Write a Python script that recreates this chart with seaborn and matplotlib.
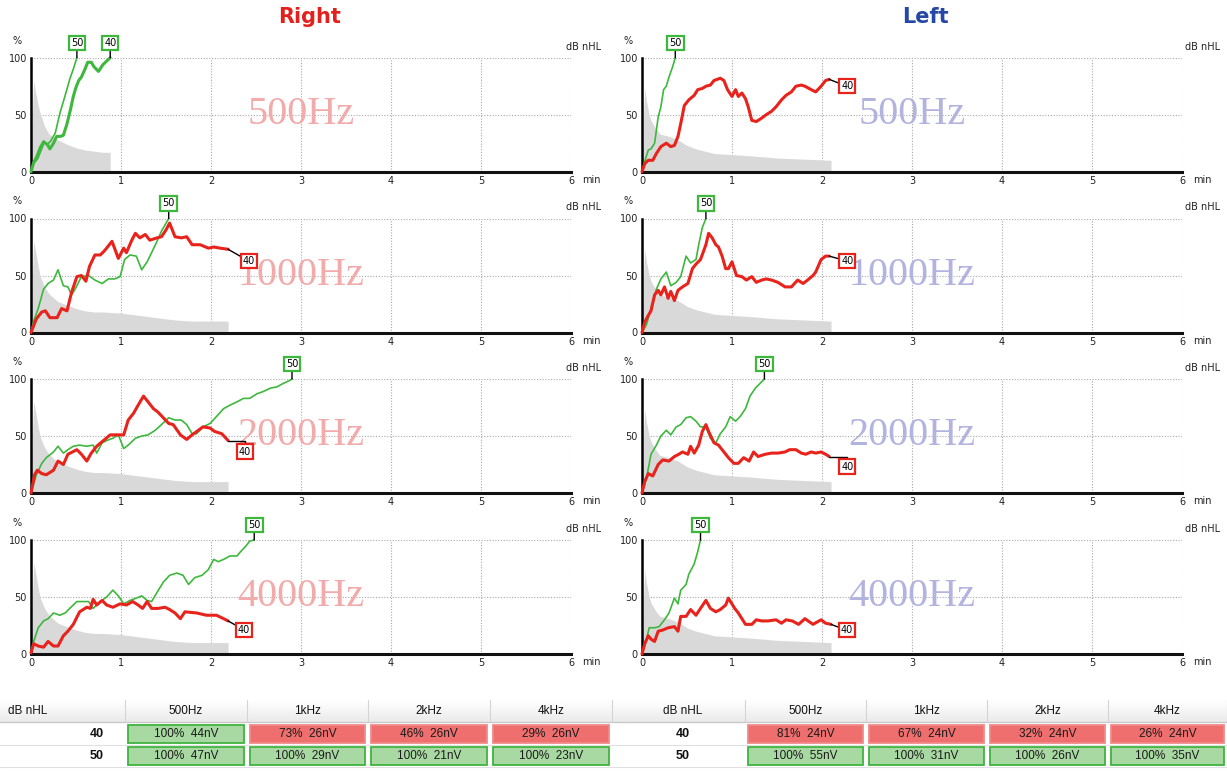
import matplotlib
matplotlib.use("Agg")
import matplotlib.pyplot as plt
from matplotlib.patches import Rectangle
import numpy as np
import seaborn as sns

sns.set_theme(style="white")
plt.rcParams['font.family'] = ['DejaVu Sans']

# ---------------- ASSR response curves (time in min, response in %) ----------------
R500_40_T = [0, 0.03, 0.07, 0.10, 0.14, 0.18, 0.21, 0.25, 0.285, 0.33, 0.36, 0.40, 0.44, 0.47, 0.50, 0.53, 0.56, 0.60, 0.63, 0.67, 0.70, 0.75, 0.80, 0.84, 0.88]
R500_40_Y = [0, 8, 12, 18, 26, 24, 20, 25, 31, 31, 32, 42, 55, 66, 74, 80, 83, 90, 96, 96, 92, 88, 94, 97, 100]
R500_50_T = [0, 0.03, 0.06, 0.10, 0.14, 0.18, 0.22, 0.27, 0.32, 0.38, 0.43, 0.47, 0.51]
R500_50_Y = [0, 9, 14, 22, 27, 24, 27, 34, 51, 67, 81, 90, 100]

R1000_40_T = [0, 0.06, 0.12, 0.16, 0.21, 0.29, 0.34, 0.40, 0.45, 0.51, 0.56, 0.61, 0.65, 0.71, 0.77, 0.82, 0.90, 0.97, 1.03, 1.06, 1.12, 1.16, 1.21, 1.27, 1.32, 1.40, 1.45, 1.50, 1.54, 1.60, 1.67, 1.73, 1.79, 1.88, 1.97, 2.03, 2.10, 2.19]
R1000_40_Y = [0, 12, 18, 19, 13, 13, 21, 19, 35, 49, 50, 45, 58, 68, 68, 72, 80, 65, 74, 70, 81, 87, 83, 86, 81, 83, 84, 90, 96, 84, 83, 84, 77, 77, 74, 75, 74, 73]
R1000_50_T = [0, 0.03, 0.08, 0.14, 0.19, 0.25, 0.30, 0.36, 0.41, 0.45, 0.49, 0.56, 0.64, 0.71, 0.79, 0.86, 0.93, 0.99, 1.04, 1.10, 1.17, 1.23, 1.29, 1.34, 1.40, 1.45, 1.53]
R1000_50_Y = [0, 10, 21, 38, 43, 46, 55, 41, 40, 33, 38, 49, 50, 46, 43, 47, 47, 49, 64, 68, 67, 55, 62, 70, 80, 89, 100]

R2000_40_T = [0, 0.04, 0.07, 0.12, 0.17, 0.25, 0.30, 0.36, 0.41, 0.51, 0.56, 0.62, 0.67, 0.73, 0.79, 0.88, 0.93, 1.03, 1.08, 1.14, 1.19, 1.25, 1.30, 1.36, 1.41, 1.47, 1.53, 1.58, 1.66, 1.73, 1.79, 1.86, 1.91, 1.99, 2.04, 2.12, 2.19]
R2000_40_Y = [0, 16, 20, 17, 16, 20, 28, 25, 34, 38, 34, 28, 35, 41, 45, 51, 51, 51, 64, 70, 77, 85, 80, 74, 71, 66, 61, 60, 51, 47, 51, 55, 58, 57, 54, 52, 46]
R2000_50_T = [0, 0.06, 0.12, 0.17, 0.25, 0.30, 0.36, 0.41, 0.47, 0.54, 0.62, 0.69, 0.73, 0.79, 0.84, 0.91, 0.97, 1.03, 1.08, 1.16, 1.23, 1.30, 1.38, 1.45, 1.53, 1.60, 1.67, 1.73, 1.79, 1.84, 1.91, 1.99, 2.06, 2.14, 2.21, 2.29, 2.36, 2.43, 2.51, 2.58, 2.66, 2.73, 2.80, 2.88, 2.90]
R2000_50_Y = [0, 16, 26, 31, 36, 41, 35, 38, 41, 42, 41, 42, 35, 44, 46, 48, 51, 39, 42, 48, 50, 51, 55, 60, 66, 64, 64, 60, 52, 52, 58, 61, 67, 74, 77, 80, 83, 83, 87, 89, 92, 93, 96, 99, 100]

R4000_40_T = [0, 0.03, 0.08, 0.14, 0.19, 0.25, 0.30, 0.36, 0.41, 0.47, 0.54, 0.62, 0.66, 0.69, 0.73, 0.79, 0.84, 0.91, 0.99, 1.06, 1.13, 1.19, 1.24, 1.29, 1.34, 1.41, 1.49, 1.54, 1.60, 1.66, 1.71, 1.84, 1.95, 2.06, 2.14, 2.19]
R4000_40_Y = [1, 9, 7, 6, 11, 7, 7, 16, 20, 26, 37, 41, 40, 48, 43, 47, 43, 41, 44, 43, 46, 43, 40, 46, 40, 40, 41, 39, 36, 31, 37, 36, 34, 34, 31, 29]
R4000_50_T = [0, 0.03, 0.08, 0.14, 0.19, 0.25, 0.32, 0.38, 0.43, 0.51, 0.58, 0.64, 0.69, 0.77, 0.84, 0.91, 0.97, 1.03, 1.10, 1.17, 1.23, 1.29, 1.34, 1.40, 1.47, 1.54, 1.62, 1.69, 1.75, 1.82, 1.90, 1.97, 2.03, 2.08, 2.14, 2.21, 2.29, 2.32, 2.38, 2.43, 2.48]
R4000_50_Y = [1, 11, 23, 29, 31, 36, 34, 36, 40, 46, 46, 46, 40, 46, 50, 56, 51, 44, 47, 49, 51, 47, 46, 54, 63, 69, 71, 69, 61, 67, 69, 74, 83, 81, 83, 86, 86, 89, 94, 99, 100]

L500_40_T = [0, 0.03, 0.07, 0.12, 0.16, 0.21, 0.27, 0.32, 0.36, 0.40, 0.43, 0.47, 0.52, 0.58, 0.62, 0.67, 0.71, 0.76, 0.80, 0.87, 0.91, 0.95, 1.00, 1.04, 1.07, 1.11, 1.15, 1.18, 1.22, 1.27, 1.33, 1.38, 1.44, 1.49, 1.55, 1.60, 1.66, 1.71, 1.77, 1.81, 1.88, 1.93, 1.99, 2.04, 2.08]
L500_40_Y = [0, 7, 10, 10, 16, 22, 25, 22, 23, 31, 42, 58, 63, 67, 72, 73, 75, 76, 80, 82, 80, 72, 66, 72, 66, 69, 64, 57, 45, 44, 47, 50, 53, 57, 63, 67, 70, 75, 76, 75, 72, 70, 75, 80, 81]
L500_50_T = [0, 0.03, 0.07, 0.10, 0.14, 0.18, 0.21, 0.24, 0.27, 0.30, 0.34, 0.37]
L500_50_Y = [0, 9, 19, 20, 25, 48, 57, 72, 75, 83, 92, 100]

L1000_40_T = [0, 0.03, 0.07, 0.10, 0.14, 0.18, 0.21, 0.25, 0.29, 0.32, 0.36, 0.40, 0.45, 0.51, 0.56, 0.60, 0.65, 0.71, 0.74, 0.78, 0.82, 0.85, 0.89, 0.93, 0.96, 1.00, 1.05, 1.11, 1.16, 1.22, 1.27, 1.33, 1.38, 1.44, 1.51, 1.59, 1.66, 1.73, 1.79, 1.84, 1.90, 1.93, 1.99, 2.04, 2.08]
L1000_40_Y = [0, 9, 15, 19, 33, 37, 33, 40, 30, 36, 28, 37, 40, 43, 56, 60, 64, 77, 87, 83, 77, 75, 67, 56, 56, 62, 50, 49, 46, 49, 44, 46, 47, 46, 44, 40, 40, 46, 43, 46, 50, 53, 64, 67, 67]
L1000_50_T = [0, 0.05, 0.10, 0.16, 0.21, 0.27, 0.32, 0.38, 0.43, 0.49, 0.54, 0.60, 0.63, 0.67, 0.71]
L1000_50_Y = [0, 7, 21, 38, 47, 53, 41, 44, 49, 67, 61, 64, 77, 92, 100]

L2000_40_T = [0, 0.03, 0.07, 0.12, 0.18, 0.23, 0.30, 0.36, 0.41, 0.45, 0.51, 0.54, 0.58, 0.63, 0.67, 0.71, 0.74, 0.80, 0.85, 0.91, 0.96, 1.02, 1.07, 1.13, 1.19, 1.24, 1.29, 1.37, 1.44, 1.51, 1.59, 1.64, 1.71, 1.77, 1.82, 1.88, 1.93, 1.99, 2.04, 2.08]
L2000_40_Y = [0, 10, 17, 15, 25, 29, 28, 32, 34, 36, 34, 41, 35, 42, 54, 60, 54, 44, 42, 36, 31, 26, 26, 31, 28, 36, 32, 34, 35, 35, 36, 38, 38, 35, 34, 36, 35, 36, 34, 32]
L2000_50_T = [0, 0.05, 0.10, 0.16, 0.21, 0.27, 0.32, 0.38, 0.43, 0.49, 0.54, 0.60, 0.65, 0.71, 0.76, 0.82, 0.87, 0.93, 0.98, 1.04, 1.09, 1.15, 1.20, 1.26, 1.31, 1.36]
L2000_50_Y = [0, 13, 34, 42, 50, 55, 51, 58, 60, 66, 67, 63, 58, 58, 48, 44, 52, 58, 67, 63, 67, 74, 85, 92, 96, 100]

L4000_40_T = [0, 0.03, 0.07, 0.10, 0.14, 0.18, 0.23, 0.29, 0.36, 0.40, 0.43, 0.49, 0.54, 0.60, 0.65, 0.71, 0.76, 0.82, 0.87, 0.93, 0.96, 1.03, 1.07, 1.15, 1.22, 1.27, 1.33, 1.40, 1.49, 1.55, 1.60, 1.67, 1.74, 1.81, 1.90, 1.99, 2.04, 2.10]
L4000_40_Y = [0, 9, 16, 13, 11, 20, 21, 23, 24, 20, 33, 33, 39, 34, 40, 47, 40, 37, 39, 43, 49, 40, 36, 26, 26, 30, 29, 29, 30, 27, 30, 29, 26, 31, 26, 30, 27, 26]
L4000_50_T = [0, 0.05, 0.08, 0.14, 0.19, 0.25, 0.30, 0.36, 0.40, 0.43, 0.49, 0.52, 0.58, 0.62, 0.65]
L4000_50_Y = [0, 13, 23, 23, 24, 30, 36, 49, 44, 56, 61, 70, 79, 90, 100]

# ---------------- residual noise (grey area) ----------------
NOISE_SHORT_T = [0, 0.02, 0.03, 0.05, 0.08, 0.10, 0.15, 0.20, 0.30, 0.40, 0.50, 0.60, 0.70, 0.80, 0.88]
NOISE_SHORT_Y = [0, 60, 80, 70, 58, 52, 40, 33, 28, 24, 21, 19, 18, 17, 17]
RIGHT_NOISE_T = [0, 0.02, 0.03, 0.05, 0.08, 0.10, 0.15, 0.20, 0.30, 0.40, 0.50, 0.60, 0.70, 0.80, 1.0, 1.2, 1.4, 1.6, 1.8, 2.0, 2.19]
RIGHT_NOISE_Y = [0, 60, 80, 72, 58, 50, 40, 34, 27, 24, 21, 19, 18, 18, 17, 15, 13, 11, 10, 10, 10]
LEFT_NOISE_T = [0, 0.02, 0.03, 0.05, 0.08, 0.10, 0.15, 0.20, 0.30, 0.40, 0.50, 0.60, 0.70, 0.80, 1.0, 1.2, 1.5, 1.8, 2.1]
LEFT_NOISE_Y = [0, 55, 73, 62, 50, 45, 38, 33, 31, 28, 23, 20, 18, 16, 15, 14, 12, 11, 10]

# ---------------- summary table ----------------
TABLE_FREQS = ["500Hz", "1kHz", "2kHz", "4kHz"]
TABLE_LEVELS = ["40", "50"]
RIGHT_PCT_40 = [100, 73, 46, 29]
RIGHT_NV_40 = [44, 26, 26, 26]
RIGHT_PCT_50 = [100, 100, 100, 100]
RIGHT_NV_50 = [47, 29, 21, 23]
LEFT_PCT_40 = [81, 67, 32, 26]
LEFT_NV_40 = [24, 24, 24, 24]
LEFT_PCT_50 = [100, 100, 100, 100]
LEFT_NV_50 = [55, 31, 26, 35]

FREQ_NAMES = ["500Hz", "1000Hz", "2000Hz", "4000Hz"]
X_TICKS = [0, 1, 2, 3, 4, 5, 6]
Y_TICKS = [0, 50, 100]

RED = "#e8231c"
GREEN = "#3db83d"
NOISE_GREY = "#d9d9d9"

W, H = 1227, 771
fig = plt.figure(figsize=(W / 100, H / 100), dpi=100)
fig.patch.set_facecolor("white")

curves = {
    "Right": [((R500_40_T, R500_40_Y), (R500_50_T, R500_50_Y)),
              ((R1000_40_T, R1000_40_Y), (R1000_50_T, R1000_50_Y)),
              ((R2000_40_T, R2000_40_Y), (R2000_50_T, R2000_50_Y)),
              ((R4000_40_T, R4000_40_Y), (R4000_50_T, R4000_50_Y))],
    "Left": [((L500_40_T, L500_40_Y), (L500_50_T, L500_50_Y)),
             ((L1000_40_T, L1000_40_Y), (L1000_50_T, L1000_50_Y)),
             ((L2000_40_T, L2000_40_Y), (L2000_50_T, L2000_50_Y)),
             ((L4000_40_T, L4000_40_Y), (L4000_50_T, L4000_50_Y))],
}
noise = {
    "Right": [(NOISE_SHORT_T, NOISE_SHORT_Y)] + [(RIGHT_NOISE_T, RIGHT_NOISE_Y)] * 3,
    "Left": [(LEFT_NOISE_T, LEFT_NOISE_Y)] * 4,
}
pct40 = {"Right": RIGHT_PCT_40, "Left": LEFT_PCT_40}

# placement of the 40 dB box (pixel offset from curve end, leader style)
label40 = {
    "Right": [None, (21, -12, "straight"), (17, -11, "elbow"), (16, -9, "straight")],
    "Left": [(18, -7, "straight"), (18, -5, "straight"), (18, -10, "elbow"), (16, -6, "straight")],
}

col_left_px = {"Right": 31, "Left": 642}
ax_w_px = 540
ax_h_px = 114
row_top_px = [57.7, 218.5, 379.0, 540.0]
watermark_color = {"Right": "#f2aaaa", "Left": "#b3b3e0"}
dbnhl_dx = {"Right": -5, "Left": 3}


def box_label(ax, text, xy, offset, color, style):
    if style == "elbow":
        conn = "angle,angleA=90,angleB=0,rad=0"
    else:
        conn = "arc3"
    ax.annotate(text, xy=xy, xytext=offset, textcoords="offset pixels",
                ha="center", va="center", fontsize=7, color="black",
                bbox=dict(boxstyle="square,pad=0.22", fc="white", ec=color, lw=1.6),
                arrowprops=dict(arrowstyle="-", color="black", lw=1.0,
                                shrinkA=0, shrinkB=0, connectionstyle=conn),
                annotation_clip=False, zorder=6)


for ear in ["Right", "Left"]:
    for r in range(4):
        left = col_left_px[ear] / W
        bottom = 1 - (row_top_px[r] + ax_h_px) / H
        ax = fig.add_axes([left, bottom, ax_w_px / W, ax_h_px / H])
        ax.set_xlim(0, 6)
        ax.set_ylim(0, 100)
        ax.set_facecolor("white")

        # grid
        ax.set_xticks(X_TICKS)
        ax.set_yticks(Y_TICKS)
        ax.grid(True, ls=(0, (1, 1.5)), color="#a8a8a8", lw=0.8)
        for s in ["top", "right"]:
            ax.spines[s].set_visible(False)
        ax.spines["left"].set_color("black")
        ax.spines["left"].set_linewidth(1.8)
        ax.spines["bottom"].set_color("#111111")
        ax.spines["bottom"].set_linewidth(2.2)
        ax.tick_params(length=0, labelsize=7, colors="#222222", pad=3)
        ax.set_xticklabels([str(v) for v in X_TICKS])
        ax.set_yticklabels([str(v) for v in Y_TICKS])

        # frequency name behind the traces
        ax.text(3.0, 50, FREQ_NAMES[r], ha="center", va="center",
                fontsize=29, family="Liberation Serif",
                color=watermark_color[ear], zorder=1)

        # residual noise
        nt, ny = noise[ear][r]
        ax.fill_between(nt, 0, ny, color=NOISE_GREY, lw=0, zorder=2)

        (t40, y40), (t50, y50) = curves[ear][r]
        passed40 = pct40[ear][r] >= 100
        c40 = GREEN if passed40 else RED

        sns.lineplot(x=t50, y=y50, ax=ax, color=GREEN, lw=1.2, sort=False,
                     estimator=None, legend=False, clip_on=False, zorder=4)
        sns.lineplot(x=t40, y=y40, ax=ax, color=c40, lw=2.2, sort=False,
                     estimator=None, legend=False, clip_on=False, zorder=5)
        ax.set_xlabel("")
        ax.set_ylabel("")

        # level boxes
        box_label(ax, "50", (t50[-1], y50[-1]), (0, 15), GREEN, "straight")
        spec = label40[ear][r]
        if spec is None:
            box_label(ax, "40", (t40[-1], y40[-1]), (0, 15), c40, "straight")
        else:
            box_label(ax, "40", (t40[-1], y40[-1]), (spec[0], spec[1]), c40, spec[2])

        # axis captions
        ax.annotate("%", xy=(0, 1), xycoords="axes fraction", xytext=(-18, 12),
                    textcoords="offset pixels", ha="left", va="bottom", fontsize=7,
                    color="#222222")
        ax.annotate("dB nHL", xy=(1, 1), xycoords="axes fraction",
                    xytext=(dbnhl_dx[ear], 6), textcoords="offset pixels",
                    ha="left", va="bottom", fontsize=7, color="#222222")
        ax.annotate("min", xy=(1, 0), xycoords="axes fraction", xytext=(11, -3),
                    textcoords="offset pixels", ha="left", va="top", fontsize=7,
                    color="#222222")

# ear titles
fig.text(310 / W, 1 - 17 / H, "Right", ha="center", va="center", fontsize=15,
         fontweight="bold", color="#e3201b", family=["Liberation Sans Narrow", "DejaVu Sans"])
fig.text(925 / W, 1 - 17 / H, "Left", ha="center", va="center", fontsize=15,
         fontweight="bold", color="#2548a8", family=["Liberation Sans Narrow", "DejaVu Sans"])

# ---------------- summary table (pixel layout) ----------------
tab = fig.add_axes([0, 0, 1, 1], zorder=-1)
tab.set_xlim(0, W)
tab.set_ylim(H, 0)
tab.axis("off")

header_top, header_bot = 700, 722
row_tops = [724, 746]
row_h = 20
tables = {
    "Right": dict(edges=[0, 125, 247, 368, 490, 612],
                  pct=[RIGHT_PCT_40, RIGHT_PCT_50], nv=[RIGHT_NV_40, RIGHT_NV_50],
                  head_x=8, head_ha="left", lab_x=97),
    "Left": dict(edges=[612, 745, 866, 987, 1108, 1227],
                 pct=[LEFT_PCT_40, LEFT_PCT_50], nv=[LEFT_NV_40, LEFT_NV_50],
                 head_x=683, head_ha="center", lab_x=683),
}

# header band gradient
grad = np.linspace(0, 1, 30).reshape(-1, 1)
tab.imshow(grad, extent=[0, W, header_bot, header_top], aspect="auto",
           cmap=matplotlib.colors.LinearSegmentedColormap.from_list("h", ["#ffffff", "#ebebeb"]),
           zorder=0)
tab.plot([0, W], [header_bot, header_bot], color="#c8c8c8", lw=1)
tab.plot([0, W], [row_tops[0] + row_h + 1, row_tops[0] + row_h + 1], color="#e0e0e0", lw=0.8)
tab.plot([0, W], [row_tops[1] + row_h + 1, row_tops[1] + row_h + 1], color="#e0e0e0", lw=0.8)

tfont = ["Liberation Sans", "DejaVu Sans"]
for ear, t in tables.items():
    e = t["edges"]
    for xe in e[1:]:
        tab.plot([xe, xe], [header_top, header_bot], color="#d4d4d4", lw=0.8)
    tab.text(t["head_x"], (header_top + header_bot) / 2, "dB nHL", ha=t["head_ha"],
             va="center", fontsize=8.5, family=tfont, color="#111111")
    for j, f in enumerate(TABLE_FREQS):
        cx = (e[j + 1] + e[j + 2]) / 2
        tab.text(cx, (header_top + header_bot) / 2, f, ha="center", va="center",
                 fontsize=8.5, family=tfont, color="#111111")
    for i, lev in enumerate(TABLE_LEVELS):
        y0 = row_tops[i]
        tab.text(t["lab_x"], y0 + row_h / 2, lev, ha="center", va="center",
                 fontsize=9, fontweight="bold", family=tfont, color="#111111")
        for j in range(4):
            p = t["pct"][i][j]
            nv = t["nv"][i][j]
            x0 = e[j + 1] + 3
            x1 = e[j + 2] - 3
            if p >= 100:
                fc, ec = "#a9d9a2", "#3fb43f"
            else:
                fc, ec = "#ef6e6e", "#f08a8a"
            tab.add_patch(Rectangle((x0, y0 + 1), x1 - x0, row_h - 2, fc=fc, ec=ec, lw=1.3))
            tab.text((x0 + x1) / 2, y0 + row_h / 2, f"{p}%  {nv}nV", ha="center",
                     va="center", fontsize=8.5, family=tfont, color="#1a1a1a")

fig.savefig("out.png", dpi=100, facecolor="white")
